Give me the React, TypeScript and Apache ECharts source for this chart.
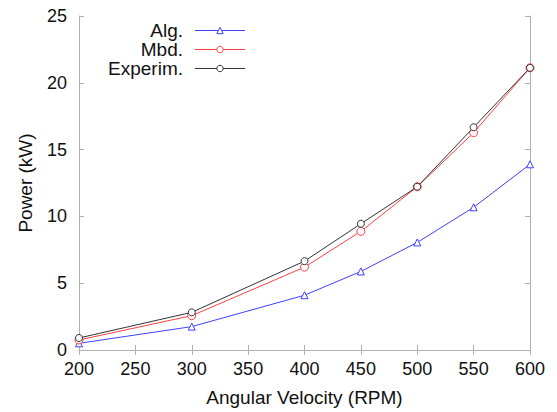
import React, { useEffect, useRef } from "react";
import * as echarts from "echarts";

const rpm = [200, 300, 400, 450, 500, 550, 600];
const algValues = [0.5, 1.75, 4.1, 5.88, 8.05, 10.68, 13.9];
const mbdValues = [0.75, 2.57, 6.2, 8.88, 12.22, 16.27, 21.12];
const expValues = [0.9, 2.82, 6.65, 9.45, 12.22, 16.67, 21.12];

const FONT = "Liberation Sans, Arial, sans-serif";
const AXIS_COLOR = "#b0b0b0";
const BLUE = "#4040ff";
const RED = "#ff4040";
const BLACK = "#333333";

const toPairs = (vals: number[]) => rpm.map((x, i) => [x, vals[i]]);

export default function App() {
  const ref = useRef<HTMLDivElement>(null);
  useEffect(() => {
    if (!ref.current) return;
    const chart = echarts.init(ref.current, null, { renderer: "svg" });
    const axisLine = { show: true, lineStyle: { color: AXIS_COLOR, width: 1 } };
    const axisTick = { show: true, inside: true, length: 5, lineStyle: { color: AXIS_COLOR } };
    const labelStyle = { color: "#111", fontSize: 18, fontFamily: FONT };
    const titleStyle = { color: "#111", fontSize: 19, fontFamily: FONT };
    chart.setOption({
      animation: false,
      backgroundColor: "#fff",
      grid: { left: 79, top: 16, right: 27, bottom: 62, containLabel: false },
      legend: {
        orient: "vertical",
        left: 85,
        top: 16,
        align: "right",
        itemWidth: 50,
        itemHeight: 8,
        itemGap: 0,
        lineStyle: { width: 1 },
        itemStyle: { borderWidth: 1 },
        textStyle: {
          fontSize: 19,
          fontFamily: FONT,
          color: "#111",
          width: 93,
          align: "right",
          lineHeight: 19,
          padding: [0, 7, 0, 0],
        },
        data: ["Alg.", "Mbd.", "Experim."],
      },
      xAxis: [
        {
          type: "value",
          min: 200,
          max: 600,
          interval: 50,
          position: "bottom",
          axisLine,
          axisTick,
          splitLine: { show: false },
          axisLabel: { ...labelStyle, margin: 10 },
          name: "Angular Velocity (RPM)",
          nameLocation: "middle",
          nameGap: 38,
          nameTextStyle: titleStyle,
        },
        {
          type: "value",
          min: 200,
          max: 600,
          interval: 50,
          position: "top",
          axisLine,
          axisTick,
          splitLine: { show: false },
          axisLabel: { show: false },
        },
      ],
      yAxis: [
        {
          type: "value",
          min: 0,
          max: 25,
          interval: 5,
          position: "left",
          axisLine,
          axisTick,
          splitLine: { show: false },
          axisLabel: { ...labelStyle, margin: 12 },
          name: "Power (kW)",
          nameLocation: "middle",
          nameGap: 44,
          nameTextStyle: titleStyle,
        },
        {
          type: "value",
          min: 0,
          max: 25,
          interval: 5,
          position: "right",
          axisLine,
          axisTick,
          splitLine: { show: false },
          axisLabel: { show: false },
        },
      ],
      series: [
        {
          name: "Alg.",
          type: "line",
          data: toPairs(algValues),
          symbol: "triangle",
          symbolSize: 7,
          lineStyle: { color: BLUE, width: 1 },
          itemStyle: { color: "#fff", borderColor: BLUE, borderWidth: 1 },
          z: 3,
        },
        {
          name: "Mbd.",
          type: "line",
          data: toPairs(mbdValues),
          symbol: "circle",
          symbolSize: 8,
          lineStyle: { color: RED, width: 1 },
          itemStyle: { color: "#fff", borderColor: RED, borderWidth: 1 },
          z: 4,
        },
        {
          name: "Experim.",
          type: "line",
          data: toPairs(expValues),
          symbol: "circle",
          symbolSize: 7,
          lineStyle: { color: BLACK, width: 1 },
          itemStyle: { color: "#fff", borderColor: BLACK, borderWidth: 1 },
          z: 5,
        },
      ],
    });
    return () => chart.dispose();
  }, []);
  return <div ref={ref} style={{ width: 557, height: 412, position: "absolute", left: 0, top: 0 }} />;
}
